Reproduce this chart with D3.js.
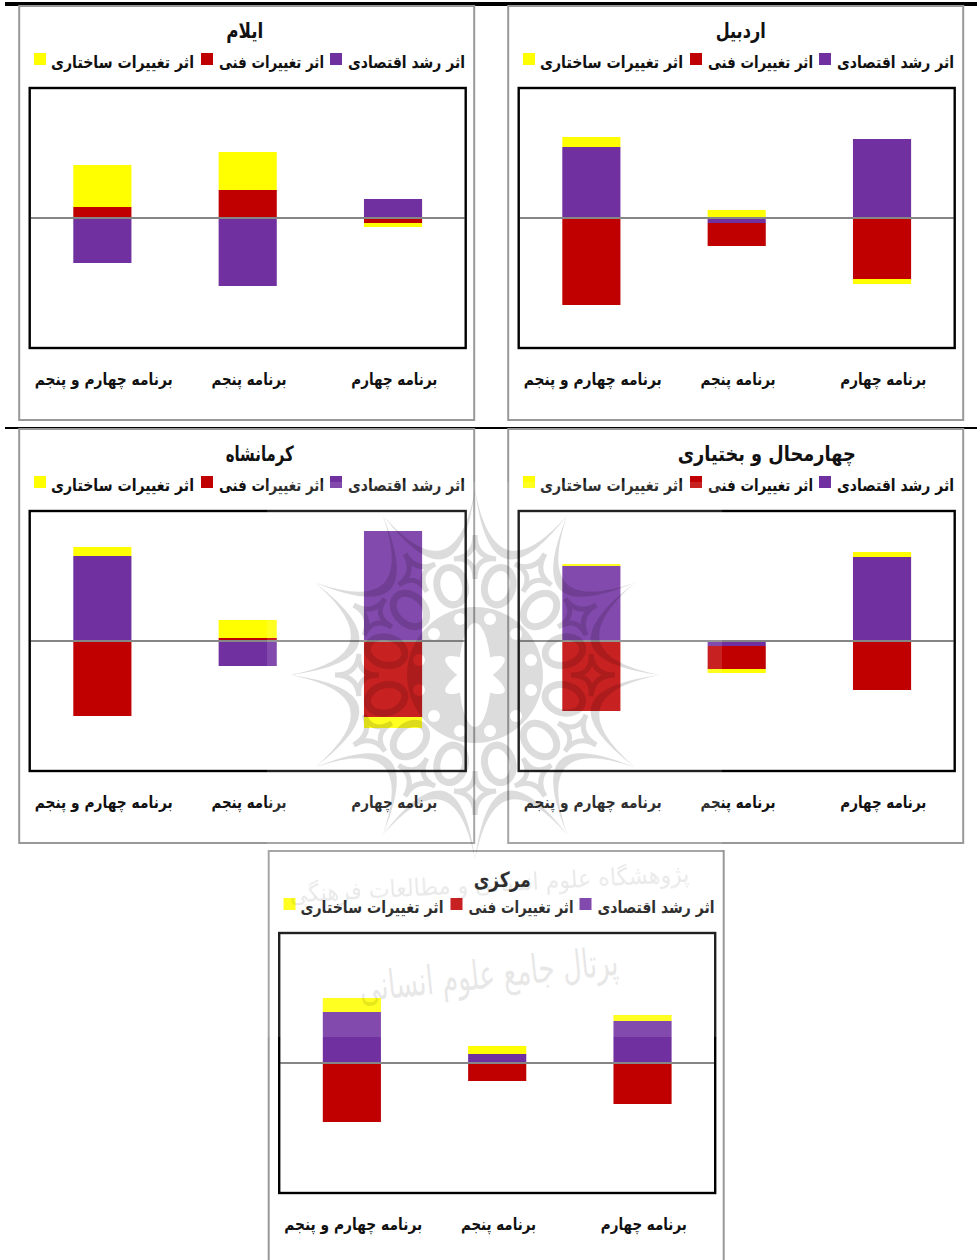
<!DOCTYPE html>
<html>
<head>
<meta charset="utf-8">
<script src="https://cdn.jsdelivr.net/npm/d3@7"></script>
<style>
  body { margin: 0; background: #fff; }
  text { font-family: "DejaVu Sans", sans-serif; font-weight: bold; fill: #111; }
</style>
</head>
<body>
<div id="container"></div>
<script>
// DATA - the charts have no value axis, so the numbers are relative units read off the bars
const provinces = ["اردبیل", "ایلام", "چهارمحال و بختیاری", "کرمانشاه", "مرکزی"];
const programs = ["برنامه چهارم و پنجم", "برنامه پنجم", "برنامه چهارم"];
const seriesNames = ["اثر رشد اقتصادی", "اثر تغییرات فنی", "اثر تغییرات ساختاری"];
// one row per province, in the order of programs
const economic = [[71, -5, 79], [-45, -68, 19], [75, -5, 84], [85, -25, 110], [51, 9, 42]];
const technical = [[-87, -23, -61], [11, 28, -5], [-70, -23, -49], [-75, 3, -76], [-59, -18, -41]];
const structural = [[10, 8, -5], [42, 38, -4], [2, -4, 5], [9, 18, -11], [14, 8, 6]];

// LAYOUT
const w = 977;
const h = 1260;
const colors = ["#7030A0", "#C00000", "#FFFF00"];
const boxW = 436;
const boxH = 260;
const panelPos = [
  { left: 518.7, top: 88, titleDx: 4, titleW: 50, titleDy: -50 },
  { left: 29.7, top: 88, titleDx: -3, titleW: 37, titleDy: -50 },
  { left: 518.7, top: 511, titleDx: 30, titleW: 178, titleDy: -50 },
  { left: 29.7, top: 511, titleDx: 12, titleW: 68, titleDy: -50 },
  { left: 279.2, top: 933, titleDx: 5, titleW: 57, titleDy: -46 }
];
const legendPos = [
  { swatch: 300.3, text: 376.8, width: 117 },
  { swatch: 171.3, text: 241.8, width: 105 },
  { swatch: 4.3, text: 92.8, width: 143 }
];
const labelWidths = [138, 75, 86];

let viz = d3.select("#container").append("svg")
  .attr("width", w)
  .attr("height", h)
  .style("display", "block");

// table rules of the page
viz.append("rect").attr("x", 5).attr("y", 2).attr("width", w - 5).attr("height", 4).attr("fill", "#000");
viz.append("rect").attr("x", 5).attr("y", 427).attr("width", w - 5).attr("height", 2).attr("fill", "#000");

let x = d3.scaleBand().domain(programs).range([0, boxW]).paddingInner(0.6).paddingOuter(0.3);
let y = d3.scaleLinear().domain([-130, 130]).range([boxH, 0]);
let stack = d3.stack()
  .keys([0, 1, 2])
  .value((d, k) => d[k])
  .offset(d3.stackOffsetDiverging);

provinces.forEach((name, p) => {
  let pos = panelPos[p];
  let rows = programs.map((c, i) => [economic[p][i], technical[p][i], structural[p][i]]);
  let g = viz.append("g").attr("transform", `translate(${pos.left},${pos.top})`);

  // outer frame
  g.append("rect")
    .attr("x", -10.5)
    .attr("y", -82)
    .attr("width", 455)
    .attr("height", p == 4 ? 420 : 414)
    .attr("fill", "#fff")
    .attr("stroke", "#999")
    .attr("stroke-width", 2);

  g.append("text")
    .attr("x", boxW / 2 + pos.titleDx)
    .attr("y", pos.titleDy)
    .attr("text-anchor", "middle")
    .attr("font-size", 21)
    .attr("textLength", pos.titleW)
    .attr("lengthAdjust", "spacingAndGlyphs")
    .text(name);

  // legend
  seriesNames.forEach((s, k) => {
    g.append("rect")
      .attr("x", legendPos[k].swatch)
      .attr("y", -35)
      .attr("width", 12)
      .attr("height", 12)
      .attr("fill", colors[k]);
    g.append("text")
      .attr("x", legendPos[k].text)
      .attr("y", -20)
      .attr("text-anchor", "middle")
      .attr("font-size", 16.5)
      .attr("textLength", legendPos[k].width)
      .attr("lengthAdjust", "spacingAndGlyphs")
      .text(s);
  });

  // stacked bars
  g.selectAll(".layer").data(stack(rows)).enter()
    .append("g")
    .attr("class", "layer")
    .attr("fill", d => colors[d.key])
    .selectAll("rect").data(d => d).enter()
    .append("rect")
    .attr("x", (d, i) => x(programs[i]))
    .attr("width", x.bandwidth())
    .attr("y", d => y(Math.max(d[0], d[1])))
    .attr("height", d => Math.abs(y(d[0]) - y(d[1])));

  g.append("line")
    .attr("x1", 1).attr("x2", boxW - 1)
    .attr("y1", y(0)).attr("y2", y(0))
    .attr("stroke", "#868686")
    .attr("stroke-width", 1.8);

  g.append("rect")
    .attr("width", boxW)
    .attr("height", boxH)
    .attr("fill", "none")
    .attr("stroke", "#000")
    .attr("stroke-width", 2.4);

  // category labels
  let axis = g.append("g")
    .attr("transform", `translate(0,${boxH})`)
    .call(d3.axisBottom(x).tickSize(0).tickPadding(24));
  axis.select(".domain").remove();
  axis.selectAll("text")
    .attr("dx", 1.3)
    .attr("dy", "0.78em")
    .attr("font-size", 16.5)
    .style("font-family", '"DejaVu Sans", sans-serif')
    .style("font-weight", "bold")
    .attr("textLength", (d, i) => labelWidths[i])
    .attr("lengthAdjust", "spacingAndGlyphs");
});

// WATERMARK - the scanned page has a faint logo pasted on top of the charts
viz.append("rect")
  .attr("x", 267).attr("y", 482)
  .attr("width", 455).attr("height", 555)
  .attr("fill", "#fff")
  .attr("opacity", 0.13);

let cx = 475, cy = 675;
let polar = (r, a) => [cx + r * Math.sin(a), cy - r * Math.cos(a)];
let defs = viz.append("defs");
let mask = defs.append("mask").attr("id", "hub");
mask.append("rect").attr("width", w).attr("height", h).attr("fill", "#fff");
[0, 60, 120].forEach((a, i) => {
  mask.append("ellipse")
    .attr("cx", cx).attr("cy", cy)
    .attr("rx", i == 0 ? 16 : 10).attr("ry", i == 0 ? 52 : 34)
    .attr("transform", `rotate(${a},${cx},${cy})`)
    .attr("fill", "#000");
});
d3.range(12).forEach(i => {
  let [px, py] = polar(58, i * Math.PI / 6 + Math.PI / 12);
  mask.append("circle").attr("cx", px).attr("cy", py).attr("r", 6).attr("fill", "#000");
});

// grouped so that overlapping parts do not darken twice
let mark = viz.append("g").attr("opacity", 0.14);
mark.append("circle").attr("cx", cx).attr("cy", cy).attr("r", 68).attr("mask", "url(#hub)");
d3.range(12).forEach(i => {
  let a = i * Math.PI / 6;
  let mid = a + Math.PI / 12;
  let t1 = polar(185, a), t2 = polar(185, a + Math.PI / 6);
  let c1 = polar(80, mid), c2 = polar(62, mid);
  let path = d3.path();
  path.moveTo(...t1);
  path.quadraticCurveTo(...c1, ...t2);
  path.quadraticCurveTo(...c2, ...t1);
  mark.append("path").attr("d", path.toString());

  let [ox, oy] = polar(92, mid);
  mark.append("ellipse")
    .attr("cx", ox).attr("cy", oy)
    .attr("rx", 14).attr("ry", 19)
    .attr("transform", `rotate(${mid * 180 / Math.PI},${ox},${oy})`)
    .attr("fill", "none")
    .attr("stroke", "#000")
    .attr("stroke-width", 7);

  // concave diamond on the axis of each spike
  let dIn = polar(96, a), dOut = polar(140, a), dL = polar(118, a - 0.18), dR = polar(118, a + 0.18);
  let centre = polar(118, a);
  let diamond = d3.path();
  diamond.moveTo(...dIn);
  diamond.quadraticCurveTo(...centre, ...dL);
  diamond.quadraticCurveTo(...centre, ...dOut);
  diamond.quadraticCurveTo(...centre, ...dR);
  diamond.quadraticCurveTo(...centre, ...dIn);
  mark.append("path")
    .attr("d", diamond.toString())
    .attr("fill", "none")
    .attr("stroke", "#000")
    .attr("stroke-width", 5);
});

viz.append("text")
  .attr("x", 490).attr("y", 892)
  .attr("text-anchor", "middle")
  .attr("font-size", 24)
  .attr("transform", "rotate(-3,490,892)")
  .attr("textLength", 400)
  .attr("lengthAdjust", "spacingAndGlyphs")
  .style("fill", "#000")
  .style("font-weight", "normal")
  .attr("opacity", 0.09)
  .text("پژوهشگاه علوم انسانی و مطالعات فرهنگی");
viz.append("text")
  .attr("x", 490).attr("y", 988)
  .attr("text-anchor", "middle")
  .attr("font-size", 40)
  .attr("transform", "rotate(-6,490,988)")
  .attr("textLength", 260)
  .attr("lengthAdjust", "spacingAndGlyphs")
  .style("fill", "#000")
  .style("font-weight", "normal")
  .attr("opacity", 0.09)
  .text("پرتال جامع علوم انسانی");
</script>
</body>
</html>
